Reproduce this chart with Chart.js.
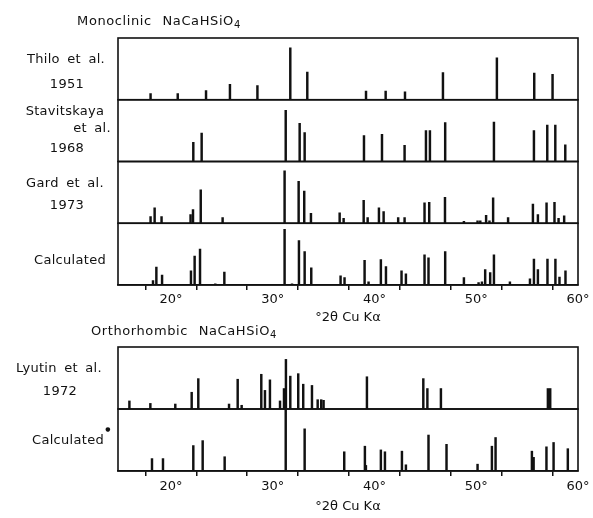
<!DOCTYPE html>
<html><head><meta charset="utf-8">
<script src="https://cdn.jsdelivr.net/npm/chart.js@4/dist/chart.umd.min.js"></script>
<style>
body{margin:0;background:#fff;width:593px;height:518px;position:relative;overflow:hidden;font-family:"DejaVu Sans",sans-serif;color:#111}
canvas{position:absolute;left:0}
#cTop{top:0}
#cBot{top:330px}
.lab{position:absolute;font-size:13px;line-height:15px;white-space:nowrap;transform:translate(-50%,-50%);letter-spacing:0.3px;word-spacing:3px}
.ttl{position:absolute;font-size:13px;line-height:15px;white-space:nowrap;transform:translate(-50%,-50%);letter-spacing:0.6px;word-spacing:6px}
sub{font-size:10px;vertical-align:-3px;line-height:0}
</style></head>
<body>
<canvas id="cTop" width="593" height="330"></canvas>
<canvas id="cBot" width="593" height="188"></canvas>
<div class="ttl" style="left:159px;top:20px">Monoclinic NaCaHSiO<sub>4</sub></div>
<div class="ttl" style="left:184px;top:330px">Orthorhombic NaCaHSiO<sub>4</sub></div>
<div class="lab" style="left:66px;top:58px">Thilo et al.</div>
<div class="lab" style="left:67px;top:83px">1951</div>
<div class="lab" style="left:65px;top:110px">Stavitskaya</div>
<div class="lab" style="left:92px;top:127px">et al.</div>
<div class="lab" style="left:67px;top:147px">1968</div>
<div class="lab" style="left:65px;top:182px">Gard et al.</div>
<div class="lab" style="left:67px;top:204px">1973</div>
<div class="lab" style="left:70px;top:259px">Calculated</div>
<div class="lab" style="left:59px;top:367px">Lyutin et al.</div>
<div class="lab" style="left:60px;top:390px">1972</div>
<div class="lab" style="left:68px;top:439px">Calculated</div>
<div class="lab" style="left:108px;top:429px;font-size:6px;line-height:6px">&#9679;</div>
<script>
// ---- data (2θ positions in degrees, relative intensities 0-100 of panel height) ----
const tickValues = [20, 25, 30, 35, 40, 45, 50, 55, 60];
const tickLabelValues = [20, 30, 40, 50, 60];
const xAxisTitle = '°2θ Cu Kα';

const thiloPos = [18.0, 20.67, 23.45, 25.8, 28.5, 31.73, 33.4, 39.17, 41.1, 43.0, 46.73, 52.03, 55.7, 57.5];
const thiloInt = [10, 10, 15, 25, 23, 84, 45, 14, 14, 13, 44, 68, 43, 41];

const stavPos = [22.2, 23.02, 31.28, 32.65, 33.14, 38.97, 40.74, 42.96, 45.06, 45.45, 46.95, 51.74, 55.67, 56.98, 57.77, 58.75];
const stavInt = [31, 46, 83, 62, 47, 42, 44, 26, 50, 50, 63, 64, 50, 59, 59, 27];

const gardPos = [18.0, 18.4, 19.08, 21.93, 22.17, 22.93, 25.08, 31.17, 32.55, 33.1, 33.76, 36.58, 36.97, 38.94, 39.33, 40.44, 40.9, 42.33, 42.96, 44.92, 45.38, 46.93, 48.79, 50.13, 50.4, 50.97, 51.3, 51.66, 53.13, 55.57, 56.06, 56.91, 57.69, 58.09, 58.64];
const gardInt = [11, 25, 11, 14, 22, 54, 9, 85, 68, 52, 16, 17, 8, 37, 9, 25, 19, 9, 9, 33, 34, 42, 3, 4, 4, 13, 4, 41, 9, 31, 14, 33, 34, 8, 12];

const calcMonoPos = [18.24, 18.57, 19.13, 21.97, 22.33, 22.86, 24.36, 25.25, 31.17, 31.9, 32.58, 33.14, 33.79, 36.67, 37.06, 39.03, 39.42, 40.63, 41.13, 42.66, 43.09, 44.92, 45.31, 46.95, 48.79, 50.23, 50.56, 50.88, 51.37, 51.74, 53.31, 55.28, 55.67, 56.06, 57.0, 57.78, 58.18, 58.77];
const calcMonoInt = [7, 29, 16, 23, 47, 58, 2, 21, 90, 2, 72, 54, 28, 15, 12, 40, 5, 41, 30, 23, 18, 49, 44, 54, 12, 4, 5, 25, 20, 49, 5, 10, 42, 25, 42, 42, 13, 23];

const lyutinPos = [15.92, 17.98, 20.43, 22.04, 22.69, 25.71, 26.56, 26.95, 28.88, 29.24, 29.73, 30.72, 31.11, 31.3, 31.73, 32.51, 33.0, 33.86, 34.42, 34.77, 35.0, 39.26, 44.8, 45.2, 46.53, 57.04, 57.27];
const lyutinInt = [13, 9, 8, 27, 49, 8, 48, 6, 56, 30, 47, 13, 33, 80, 53, 57, 40, 38, 15, 15, 14, 52, 49, 33, 33, 33, 33];

const calcOrthoPos = [18.14, 19.22, 22.2, 23.12, 25.28, 31.28, 33.14, 37.03, 39.06, 39.16, 40.63, 41.03, 42.7, 43.09, 45.31, 47.08, 50.13, 51.54, 51.9, 55.47, 55.64, 56.9, 57.6, 59.0];
const calcOrthoInt = [20, 20, 41, 49, 23, 100, 68, 31, 40, 9, 34, 31, 32, 10, 58, 43, 11, 40, 54, 32, 22, 39, 46, 36];

// ---- chart construction ----
Chart.defaults.font.family = '"DejaVu Sans", sans-serif';
Chart.defaults.color = '#111';
Chart.defaults.animation = false;

const framePlugin = {
  id: 'frame',
  afterDatasetsDraw(chart) {
    const {ctx, chartArea: a, scales} = chart;
    ctx.save();
    ctx.strokeStyle = '#111';
    ctx.lineWidth = 1.6;
    Object.values(scales).forEach(s => {
      if (s.axis === 'y') ctx.strokeRect(a.left, s.top, a.right - a.left, s.bottom - s.top);
    });
    ctx.restore();
  }
};

function makeChart(id, panels, cfg) {
  const datasets = panels.map((p, i) => ({
    type: 'bar',
    data: p.pos.map((x, j) => ({x: x, y: p.int[j]})),
    yAxisID: 'y' + i,
    backgroundColor: '#111',
    barThickness: 1.8,
    grouped: false
  }));
  const scales = {
    x: {
      type: 'linear', min: 14.8, max: 60, offset: false,
      afterBuildTicks: s => { s.ticks = tickValues.map(v => ({value: v})); },
      afterFit: s => { s.height = cfg.xHeight; },
      ticks: {
        autoSkip: false, maxRotation: 0, padding: cfg.tickPad,
        font: {size: 13},
        callback: v => tickLabelValues.includes(v) ? v + '°' : ''
      },
      grid: {display: true, drawOnChartArea: false, drawTicks: true, tickLength: 5, color: '#111', lineWidth: 1.5},
      border: {display: true, color: '#111', width: 1.6},
      title: {display: true, text: xAxisTitle, font: {size: 13}, padding: {top: 0, bottom: cfg.titlePad}}
    }
  };
  for (let i = panels.length - 1; i >= 0; i--) {
    scales['y' + i] = {
      type: 'linear', position: 'left', stack: 'panels', stackWeight: 1,
      min: 0, max: 100,
      afterFit: s => { s.width = 0; },
      ticks: {display: false},
      grid: {display: false},
      border: {display: false}
    };
  }
  return new Chart(document.getElementById(id), {
    type: 'bar',
    data: {datasets},
    options: {
      responsive: false,
      devicePixelRatio: 1,
      layout: {padding: {left: 118, right: 15, top: cfg.padTop, bottom: 0}},
      plugins: {legend: {display: false}, tooltip: {enabled: false}},
      scales
    },
    plugins: [framePlugin]
  });
}

makeChart('cTop', [
  {pos: thiloPos, int: thiloInt},
  {pos: stavPos, int: stavInt},
  {pos: gardPos, int: gardInt},
  {pos: calcMonoPos, int: calcMonoInt}
], {padTop: 38, xHeight: 45, tickPad: 2, titlePad: 5});

makeChart('cBot', [
  {pos: lyutinPos, int: lyutinInt},
  {pos: calcOrthoPos, int: calcOrthoInt}
], {padTop: 17, xHeight: 47, tickPad: 3, titlePad: 4});
</script>
</body></html>
